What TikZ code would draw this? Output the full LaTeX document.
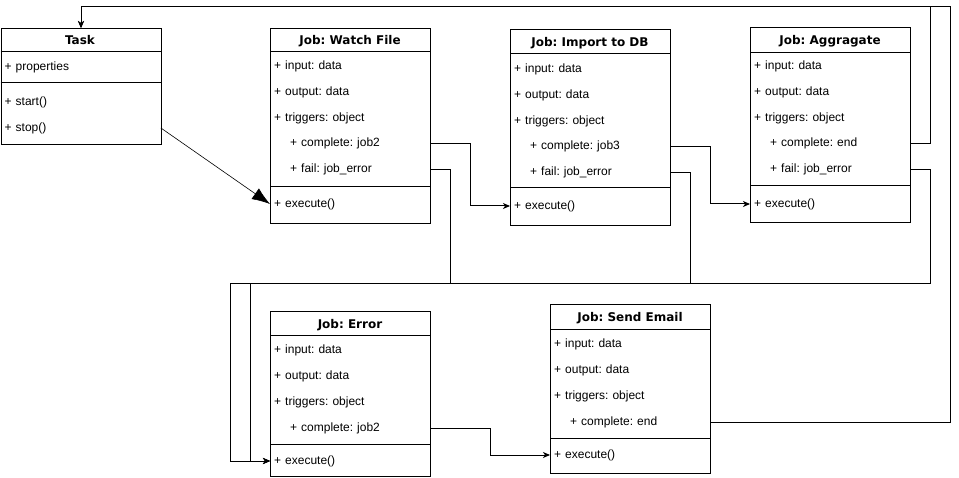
\documentclass[tikz,border=0pt]{standalone}
\usepackage{fontspec}
\setmainfont{Liberation Sans}
\newfontfamily\hdrfont{DejaVu Sans}
\usetikzlibrary{arrows.meta}
\frenchspacing
\tikzset{
  box/.style={draw, line width=1pt, anchor=north west, minimum width=160pt, inner sep=0pt},
  row/.style={anchor=west, text width=152pt, inner xsep=4pt, inner ysep=0pt, minimum height=20pt, align=left, font=\fontsize{12}{14}\selectfont},
  hdr/.style={font=\hdrfont\bfseries\fontsize{12}{14}\selectfont, inner sep=0pt},
  sepline/.style={line width=1pt},
  conn/.style={line width=1pt, -{Stealth[length=7pt,width=6pt,inset=2pt]}},
  bigconn/.style={line width=0.6pt, -{Latex[length=18pt,width=13pt]}},
}
\newcommand{\ind}{\hspace*{16pt}}
\begin{document}
\begin{tikzpicture}[x=1pt,y=-1pt]
\useasboundingbox (0,0) rectangle (959,478);

% ---------- Task ----------
\node[box, minimum height=116pt] (T) at (0.5,28) {};
\node[hdr] (Th) at (80,40) {Task};
\draw[sepline] (0.5,52) -- (160.5,52);
\node[row] (Tp) at (0.5,67) {+ properties};
\draw[sepline] (0.5,83) -- (160.5,83);
\node[row] (Tst) at (0.5,102) {+ start()};
\node[row] (Ts) at (0.5,128) {+ stop()};

% ---------- Watch File ----------
\node[box, minimum height=195pt] (W) at (270,28) {};
\node[hdr] (Wh) at (350,41) {Job: Watch File};
\draw[sepline] (270,52) -- (430,52);
\node[row] (Wi) at (270,66) {+ input: data};
\node[row] (Wo) at (270,92) {+ output: data};
\node[row] (Wt) at (270,118) {+ triggers: object};
\node[row] (Wc) at (270,143.5) {\ind+ complete: job2};
\node[row] (Wf) at (270,169.5) {\ind+ fail: job\_error};
\draw[sepline] (270,187) -- (430,187);
\node[row] (Wx) at (270,204) {+ execute()};

% ---------- Import to DB ----------
\node[box, minimum height=196pt] (I) at (510,29) {};
\node[hdr] (Ih) at (590,43) {Job: Import to DB};
\draw[sepline] (510,54) -- (670,54);
\node[row] (Ii) at (510,69) {+ input: data};
\node[row] (Io) at (510,95) {+ output: data};
\node[row] (It) at (510,121) {+ triggers: object};
\node[row] (Ic) at (510,146.5) {\ind+ complete: job3};
\node[row] (If) at (510,172.5) {\ind+ fail: job\_error};
\draw[sepline] (510,188) -- (670,188);
\node[row] (Ix) at (510,206) {+ execute()};

% ---------- Aggragate ----------
\node[box, minimum height=195pt] (A) at (750,27) {};
\node[hdr] (Ah) at (830,41) {Job: Aggragate};
\draw[sepline] (750,53) -- (910,53);
\node[row] (Ai) at (750,66) {+ input: data};
\node[row] (Ao) at (750,92) {+ output: data};
\node[row] (At) at (750,118) {+ triggers: object};
\node[row] (Ac) at (750,143.5) {\ind+ complete: end};
\node[row] (Af) at (750,169.5) {\ind+ fail: job\_error};
\draw[sepline] (750,186) -- (910,186);
\node[row] (Ax) at (750,204) {+ execute()};

% ---------- Error ----------
\node[box, minimum height=165pt] (E) at (270,311) {};
\node[hdr] (Eh) at (350,325) {Job: Error};
\draw[sepline] (270,336) -- (430,336);
\node[row] (Ei) at (270,350) {+ input: data};
\node[row] (Eo) at (270,376) {+ output: data};
\node[row] (Et) at (270,402) {+ triggers: object};
\node[row] (Ec) at (270,428) {\ind+ complete: job2};
\draw[sepline] (270,444) -- (430,444);
\node[row] (Ex) at (270,461) {+ execute()};

% ---------- Send Email ----------
\node[box, minimum height=169pt] (S) at (550,304) {};
\node[hdr] (Sh) at (630,318) {Job: Send Email};
\draw[sepline] (550,330) -- (710,330);
\node[row] (Si) at (550,344) {+ input: data};
\node[row] (So) at (550,370) {+ output: data};
\node[row] (St) at (550,396) {+ triggers: object};
\node[row] (Sc) at (550,422) {\ind+ complete: end};
\draw[sepline] (550,438) -- (710,438);
\node[row] (Sx) at (550,455) {+ execute()};

% ---------- connectors ----------
\coordinate (eL1) at (250,284);
\coordinate (eL2) at (230,284);

\draw[bigconn] (Ts.east) -- (Wx.west);
\draw[conn] (Wc.east) -- ++(40,0) |- (Ix.west);
\draw[conn] (Ic.east) -- ++(40,0) |- (Ax.west);
\draw[conn] (Ec.east) -- ++(60,0) |- (Sx.west);
\draw[conn] (Wf.east) -- ++(20,0) |- (eL1) |- (Ex.west);
\draw[conn] (If.east) -- ++(20,0) |- (eL2) |- (Ex.west);
\draw[conn] (Af.east) -- ++(20,0) |- (eL2) |- (Ex.west);
\draw[conn] (Ac.east) -- ++(20,0) |- ++(0,-136.5) -| (T.north);
\draw[conn] (Sc.east) -- ++(240,0) -- ++(0,-415) -| (T.north);
\end{tikzpicture}
\end{document}
